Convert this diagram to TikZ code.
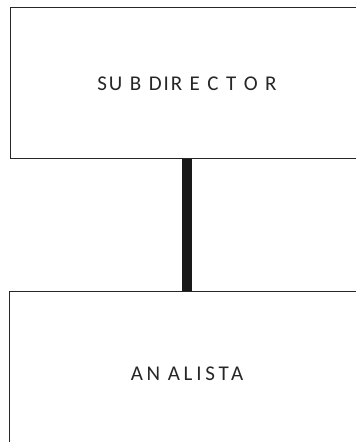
\documentclass[tikz,border=0pt]{standalone}
\usepackage{fontspec}
\setmainfont{Carlito}
\newcommand\orgtext[3]{\raisebox{#1}{\addfontfeature{LetterSpace=#2}#3}}
\newcommand\gap{\hspace{7.5pt}}
\begin{document}
\begin{tikzpicture}[x=1pt,y=1pt,
  orgbox/.style={draw=black!85, line width=1pt, rectangle, inner sep=0pt,
    font=\fontsize{21}{24}\selectfont, text=black!85},
  link/.style={draw=black!90, line width=10pt}]
\useasboundingbox (0,0) rectangle (356,442);
\clip (0,0) rectangle (356,442);
\node[orgbox, minimum width=353pt, minimum height=151pt] (sub) at (187,358.5) {\orgtext{-2.2pt}{9}{SU\gap B\gap DIR\gap E\gap C\gap T\gap O\gap R}};
\node[orgbox, minimum width=356pt, minimum height=170pt] (ana) at (187,65) {\orgtext{6pt}{18}{AN\gap ALISTA}};
\draw[link] (sub.south) -- (ana.north);
\end{tikzpicture}
\end{document}
